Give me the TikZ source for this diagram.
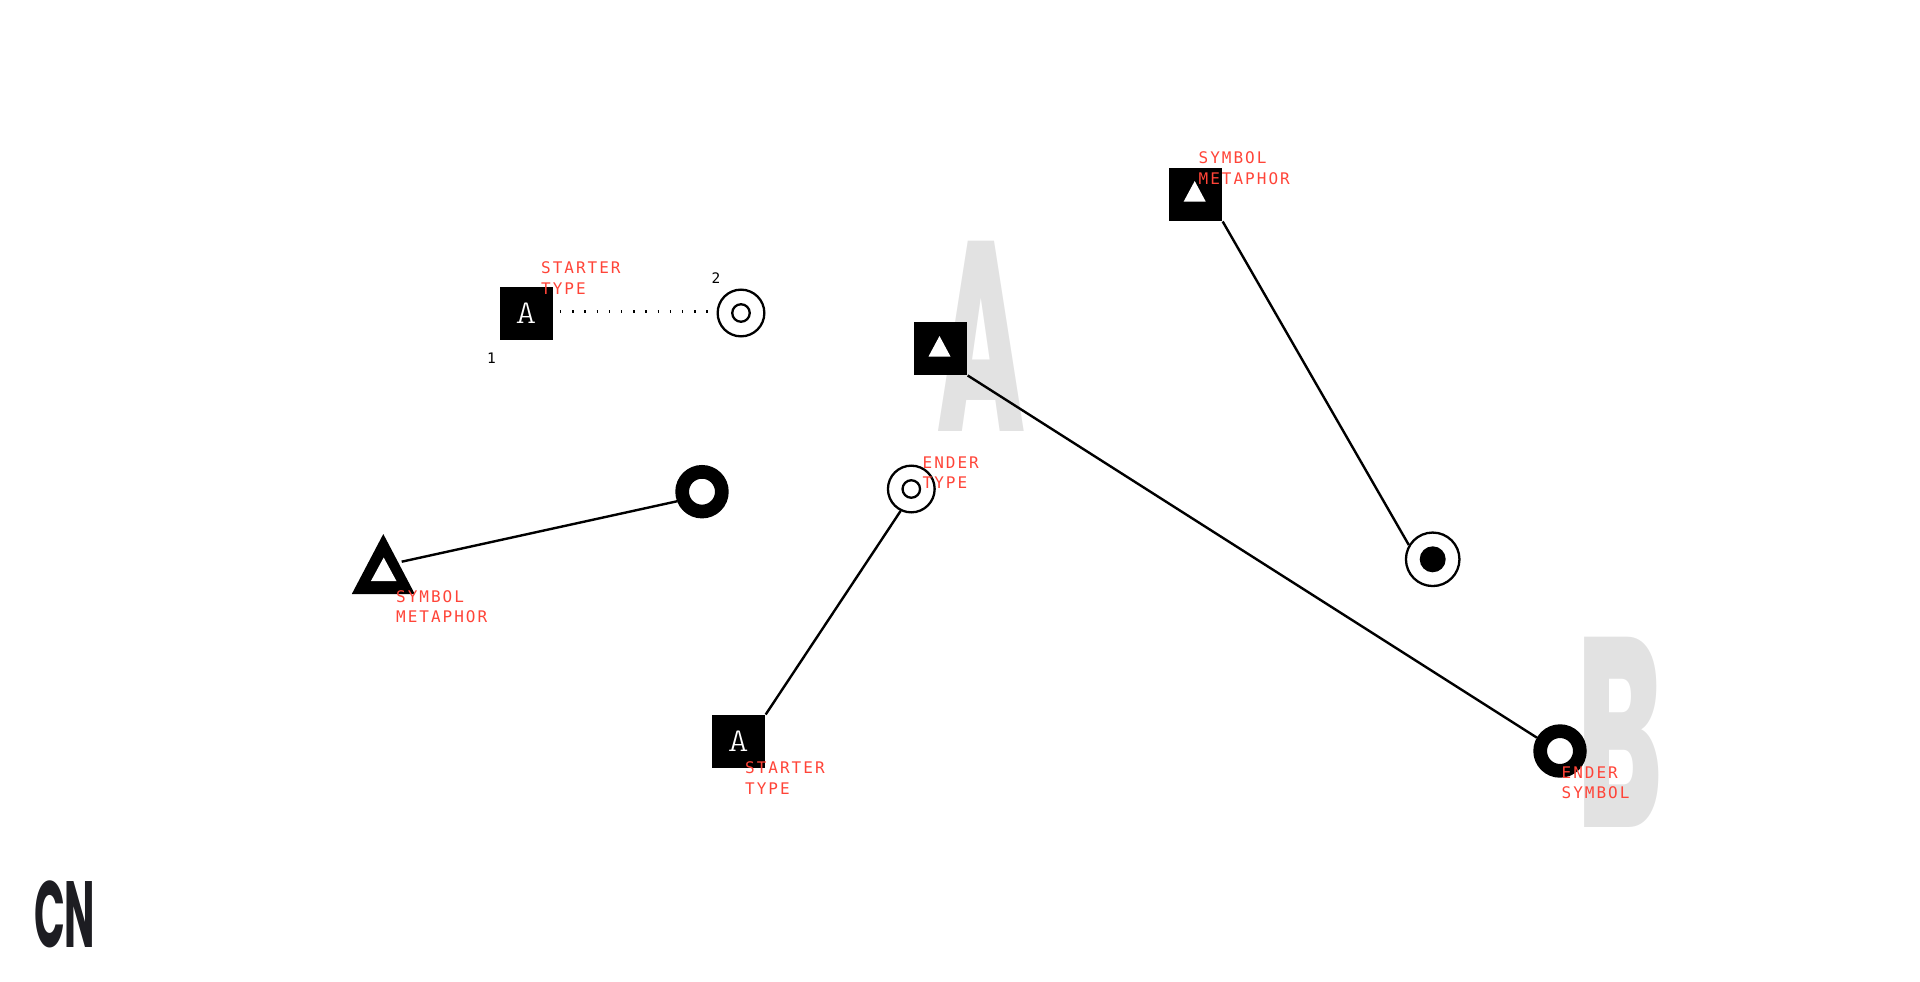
\documentclass[tikz,border=0pt]{standalone}
\usepackage{fontspec}
\usetikzlibrary{positioning}
\usetikzlibrary{shapes.geometric}
\newfontfamily\notefont[LetterSpace=12.5]{DejaVu Sans Mono}
\newfontfamily\numfont{DejaVu Sans Mono}
\newfontfamily\headfont[FakeStretch=0.43]{Poppins ExtraBold}
\newfontfamily\headlarge[FakeStretch=0.47]{Poppins ExtraBold}
\newfontfamily\logofont[FakeStretch=0.43]{Poppins Bold}
\newfontfamily\lettrefont[FakeStretch=1.2]{Latin Modern Mono Light}
\definecolor{noteRed}{HTML}{FF4438}
\definecolor{ghost}{HTML}{E2E2E2}
\definecolor{logo}{HTML}{1D1D22}
\begin{document}
\begin{tikzpicture}[x=1pt,y=-1pt]
	\tikzstyle{lien}=[-,line width=2.4pt,black]
	\tikzstyle{pointille}=[-,line width=3pt,black,dash pattern=on 1.5pt off 10.7pt,dash phase=5.7pt,shorten >=8pt]
	\tikzset{carre/.style={fill=black,rectangle,inner sep=0,minimum size=53.5pt}}
	\tikzset{fin/.style={draw=black,fill=white,circle,inner sep=0,line width=2.3pt,minimum size=46.7pt}}
	\tikzset{finpetit/.style={fin,minimum size=17.5pt}}
	\tikzset{fincible/.style={fin,minimum size=53.5pt}}
	\tikzset{pastille/.style={fill=black,circle,inner sep=0,minimum size=26pt}}
	\tikzset{anneau/.style={draw=black,fill=white,circle,inner sep=0,line width=13.7pt,minimum size=39.7pt}}
	\tikzset{tri/.style={isosceles triangle,isosceles triangle stretches,shape border rotate=90,anchor=apex,inner sep=0,fill=#1}}
	\tikzset{tripetit/.style={tri=white,minimum width=22pt,minimum height=20.5pt}}
	\tikzset{lettre/.style={text=white,font=\lettrefont\fontsize{33}{33}\selectfont,inner sep=0}}
	\tikzset{note/.style={text=noteRed,anchor=north west,inner sep=0,align=left,font=\notefont\fontsize{16}{20.7}\selectfont}}
	\tikzset{chiffre/.style={text=black,inner sep=0,font=\numfont\fontsize{14.5}{14.5}\selectfont}}
	\tikzset{fond/.style={text=ghost,anchor=base west,inner sep=0,font=\headfont\fontsize{270}{270}\selectfont}}
	\useasboundingbox (0,0) rectangle (1920,982);
	% big letters
	\node[fond] (fa) at (937.5,431) {A};
	\node[fond,font=\headlarge\fontsize{270}{270}\selectfont] (fb) at (1577,827) {B};
	\node[fond,text=logo,font=\logofont\fontsize{94}{94}\selectfont] (cn) at (34,947) {CN};
	% top left
	\node[carre] (s1) at (526.5,313.5) {};
	\node[lettre] (a1) at (526,313) {A};
	\node[fin] (e1) at (741,313) {};
	\node[finpetit] (i1) at (e1) {};
	\draw[pointille] ([yshift=1.8pt]s1.east) -- ([yshift=1.3pt]e1.west);
	\node[chiffre] (n1) at (491.5,358.5) {1};
	\node[chiffre] (n2) at (716,278.5) {2};
	\node[note] (t1) at (541,261.7) {STARTER\\TYPE};
	% triangle to ring
	\node[tri=black,minimum width=63pt,minimum height=60pt] (s2) at (383.3,533.5) {};
	\node[tripetit,minimum width=25.7pt,minimum height=23.7pt] (p2) at (383.7,557) {};
	\node[anneau] (e2) at (702,491.7) {};
	\coordinate (d2) at (401.7,561.7);
	\draw[lien] (d2) -- (e2.201);
	\node[note] (t2) at (396,590) {SYMBOL\\METAPHOR};
	% square to ring, middle
	\node[carre] (s3) at (738.7,741.5) {};
	\node[lettre] (a3) at (738.2,741) {A};
	\node[fin] (e3) at (911.3,489) {};
	\node[finpetit] (i3) at (e3) {};
	\draw[lien] (s3.north east) -- (e3.244);
	\node[note] (t3) at (745,761.7) {STARTER\\TYPE};
	\node[note] (t4) at (922.5,456.3) {ENDER\\TYPE};
	% long line
	\node[carre] (s4) at (940.7,348.5) {};
	\node[tripetit] (p4) at (939.5,335.5) {};
	\node[anneau] (e4) at (1560,751) {};
	\draw[lien] (s4.south east) -- (e4.150);
	\node[note] (t5) at (1561.5,766.3) {ENDER\\SYMBOL};
	% top right
	\node[carre] (s5) at (1195.7,194.5) {};
	\node[tripetit] (p5) at (1194.7,180.5) {};
	\node[fincible] (e5) at (1432.7,559.3) {};
	\node[pastille] (i5) at (e5) {};
	\draw[lien] (s5.south east) -- (e5.149);
	\node[note] (t6) at (1198.5,151.3) {SYMBOL\\METAPHOR};
\end{tikzpicture}
\end{document}
